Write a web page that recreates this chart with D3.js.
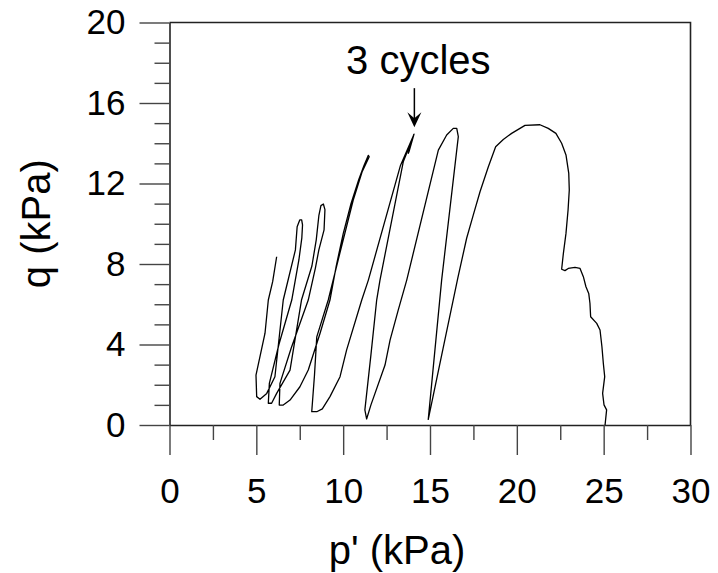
<!DOCTYPE html>
<html>
<head>
<meta charset="utf-8">
<script src="https://cdn.jsdelivr.net/npm/d3@7"></script>
<style>
  html, body { margin: 0; padding: 0; background: #fff; }
  svg { display: block; font-family: "Liberation Sans", Arial, sans-serif; }
</style>
</head>
<body>
<div id="chart"></div>
<script>
// axis ticks
const xMajorTicks = [0, 5, 10, 15, 20, 25, 30];
const xMinorTicks = [2.5, 7.5, 12.5, 17.5, 22.5, 27.5];
const yMajorTicks = [0, 4, 8, 12, 16, 20];
const yMinorTicks = [1, 2, 3, 5, 6, 7, 9, 10, 11, 13, 14, 15, 17, 18, 19];

// stress path, p' (kPa), in time order
const pValues = [
  // monotonic loading from p' = 25
  25.08, 25.17, 25.02, 24.94, 25.06, 24.98, 24.9, 24.79, 24.6, 24.25, 24.21, 24.14, 23.98, 23.83, 23.64,
  23.35, 22.96, 22.77, 22.58, 22.68, 22.83, 22.95, 23.02, 22.99, 22.83, 22.58, 22.25, 21.81, 21.33,
  20.47, 19.7, 19.22, 18.78, 18.36, 17.88, 17.49, 17.11, 16.6, 15.75, 14.9,
  // cycle 1
  15.67, 16.63, 16.54, 16.34, 15.96, 15.48, 13.66, 13.17, 12.7, 12.41, 11.6, 11.35,
  // cycle 2 (+ 3 small cycles at top)
  11.25, 11.6, 11.93, 12.12, 13.46, 14.04, 13.75, 14.06, 13.78, 14.08,
  13.3, 11.45, 11.07, 10.2, 9.82, 9.24, 8.8, 8.48, 8.19,
  // cycle 3
  8.35, 8.48, 9.14, 9.8, 10.58, 11.1, 11.5, 11.45,
  11.2, 10.9, 10.45, 10.0, 9.6, 9.24, 8.67, 7.99, 7.51, 6.94, 6.55, 6.32,
  // cycle 4
  6.36, 7.0, 7.99, 8.4, 8.6, 8.9, 8.95, 8.86, 8.72,
  8.6, 8.45, 8.2, 7.6, 6.94, 6.17, 5.88, 5.69,
  // cycle 5
  5.75, 6.3, 7.04, 7.45, 7.62, 7.66, 7.61, 7.5,
  7.35, 7.25, 6.55, 6.07, 5.6, 5.21,
  // last reload
  5.02, 4.98, 5.5, 5.69, 5.94, 6.17
];
// deviator stress q (kPa), same order
const qValues = [
  0, 0.75, 1.0, 1.57, 2.4, 3.07, 3.89, 4.72, 5.05, 5.38, 6.05, 6.54, 6.87, 7.37, 7.78,
  7.83, 7.78, 7.67, 7.74, 8.53, 9.52, 10.68, 11.68, 12.5, 13.42, 14.0, 14.49, 14.74, 14.92,
  14.89, 14.49, 14.19, 13.83, 12.83, 11.59, 10.43, 9.28, 7.3, 3.8, 0.28,
  7.2, 14.33, 14.74, 14.74, 14.41, 13.66, 7.2, 5.71, 4.22, 2.98, 1.0, 0.3,
  0.75, 3.5, 6.21, 7.2, 13.08, 14.33, 13.5, 14.4, 13.55, 14.45,
  12.9, 7.2, 6.21, 3.73, 2.4, 1.41, 0.8, 0.66, 0.66,
  2.5, 4.38, 6.21, 8.5, 11.18, 12.6, 13.33, 13.4,
  12.9, 12.2, 11.0, 9.5, 7.9, 6.21, 4.56, 2.73, 1.9, 1.24, 0.99, 0.99,
  2.07, 3.8, 6.21, 7.8, 8.7, 9.7, 10.7, 10.98, 10.9,
  10.4, 9.2, 7.9, 6.21, 2.73, 1.57, 1.08, 1.08,
  2.07, 4.0, 6.21, 8.2, 9.3, 9.94, 10.19, 10.19,
  9.85, 8.7, 6.21, 2.4, 1.57, 1.28,
  1.41, 2.48, 4.56, 6.21, 7.12, 8.36
];

// annotation
const noteText = "3 cycles";
const notePoint = [14.1, 14.8];

const width = 718, height = 573;
const margin = { top: 22.5, right: 27.5, bottom: 148, left: 169.5 };
const axisColor = "#222";

const svg = d3.select("#chart")
  .append("svg")
  .attr("width", width)
  .attr("height", height);

const x = d3.scaleLinear().domain([0, 30]).range([margin.left, width - margin.right]);
const y = d3.scaleLinear().domain([0, 20]).range([height - margin.bottom, margin.top]);

// frame (top + right)
svg.append("path")
  .attr("d", `M${x(0)},${y(20)}H${x(30)}V${y(0)}`)
  .attr("fill", "none")
  .attr("stroke", axisColor)
  .attr("stroke-width", 1.6);

// x axis
svg.append("g")
  .attr("transform", `translate(0,${y(0)})`)
  .call(d3.axisBottom(x).tickValues(xMajorTicks).tickSize(30).tickPadding(23).tickSizeOuter(0))
  .call((g) => g.select(".domain").attr("stroke-width", 1.6).attr("stroke", axisColor));
svg.append("g")
  .attr("transform", `translate(0,${y(0)})`)
  .call(d3.axisBottom(x).tickValues(xMinorTicks).tickSize(15).tickFormat("").tickSizeOuter(0))
  .call((g) => g.select(".domain").remove());

// y axis
svg.append("g")
  .attr("transform", `translate(${x(0)},0)`)
  .call(d3.axisLeft(y).tickValues(yMajorTicks).tickSize(30).tickPadding(14).tickSizeOuter(0))
  .call((g) => g.select(".domain").attr("stroke-width", 1.6).attr("stroke", axisColor));
svg.append("g")
  .attr("transform", `translate(${x(0)},0)`)
  .call(d3.axisLeft(y).tickValues(yMinorTicks).tickSize(15).tickFormat("").tickSizeOuter(0))
  .call((g) => g.select(".domain").remove());

svg.selectAll(".tick line").attr("stroke", "#444").attr("stroke-width", 1.4);
svg.selectAll(".tick text")
  .attr("fill", "#000")
  .style("font-size", "35px")
  .style("font-family", "'Liberation Sans', Arial, sans-serif");

// axis titles
svg.append("text")
  .attr("x", 397)
  .attr("y", 564)
  .attr("text-anchor", "middle")
  .style("font-size", "40px")
  .text("p' (kPa)");

svg.append("text")
  .attr("transform", `translate(50,${(y(0) + y(20)) / 2}) rotate(-90)`)
  .attr("text-anchor", "middle")
  .style("font-size", "40px")
  .text("q (kPa)");

// stress path
const pathData = pValues.map((p, i) => [p, qValues[i]]);
const line = d3.line().x((d) => x(d[0])).y((d) => y(d[1]));
svg.append("path")
  .datum(pathData)
  .attr("d", line)
  .attr("fill", "none")
  .attr("stroke", "#000")
  .attr("stroke-width", 1.3)
  .attr("stroke-linejoin", "round");

// annotation: text + arrow
const ax = x(notePoint[0]);
const tip = y(notePoint[1]);
svg.append("line")
  .attr("x1", ax).attr("x2", ax)
  .attr("y1", tip - 39).attr("y2", tip - 6)
  .attr("stroke", "#000")
  .attr("stroke-width", 1.5);
svg.append("path")
  .attr("d", `M${ax - 7},${tip - 15}L${ax},${tip}L${ax + 7},${tip - 15}L${ax},${tip - 9}Z`)
  .attr("fill", "#000");
svg.append("text")
  .attr("x", ax + 4)
  .attr("y", tip - 53)
  .attr("text-anchor", "middle")
  .style("font-size", "40px")
  .text(noteText);
</script>
</body>
</html>
